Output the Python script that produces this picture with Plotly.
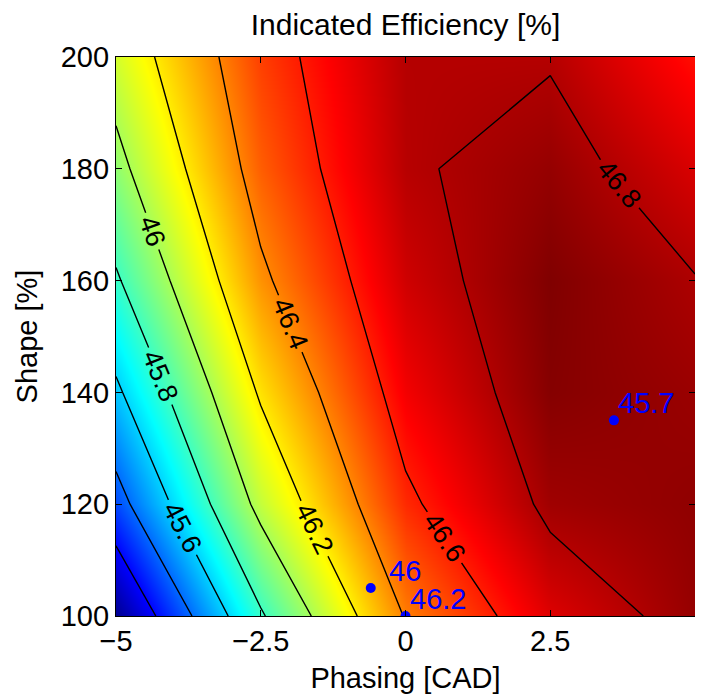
import plotly.graph_objects as go

# ---- data ----
phasing = [-5, -2.5, 0, 2.5, 5]                 # x [CAD]
shape = [100, 120, 140, 160, 180, 200]          # y [%]
efficiency = [                                   # z [%], rows follow `shape`
    [44.98, 45.78, 46.41, 46.71, 46.85],
    [45.33, 46.05, 46.57, 46.83, 46.86],
    [45.57, 46.22, 46.67, 46.88, 46.84],
    [45.78, 46.37, 46.74, 46.89, 46.805],
    [45.95, 46.47, 46.785, 46.85, 46.72],
    [46.08, 46.53, 46.79, 46.79, 46.62],
]
level_start, level_end, level_step = 45.2, 46.8, 0.2

pt_x = [-0.6, 0.0, 3.6]
pt_y = [105, 100, 135]
pt_labels = ["46", "46.2", "45.7"]

x_ticks = [-5, -2.5, 0, 2.5, 5]
x_tick_labels = ["\u22125", "\u22122.5", "0", "2.5", "5"]
y_ticks = [100, 120, 140, 160, 180, 200]
y_tick_labels = ["100", "120", "140", "160", "180", "200"]

# ---- style ----
FONT = "Liberation Sans, Arial, Helvetica, sans-serif"
jet = [
    [0.0, "rgb(0,0,143)"],
    [0.111, "rgb(0,0,255)"],
    [0.365, "rgb(0,255,255)"],
    [0.619, "rgb(255,255,0)"],
    [0.873, "rgb(255,0,0)"],
    [1.0, "rgb(128,0,0)"],
]
zmin = min(min(r) for r in efficiency)
zmax = max(max(r) for r in efficiency)

# page body has an 8px margin, so the figure is 8px smaller than the window
FIG_W, FIG_H = 695, 686

fig = go.Figure()
fig.add_trace(go.Contour(
    x=phasing, y=shape, z=efficiency,
    colorscale=jet, zauto=False, zmin=zmin, zmax=zmax,
    autocontour=False,
    contours=dict(start=level_start, end=level_end, size=level_step,
                  coloring="heatmap", showlabels=True,
                  labelfont=dict(family=FONT, size=27, color="black"),
                  labelformat=".4~g"),
    line=dict(color="black", width=1.4, smoothing=0),
    showscale=False, hoverinfo="skip",
))
fig.add_trace(go.Scatter(
    x=pt_x, y=pt_y, mode="markers",
    marker=dict(color="rgb(0,0,255)", size=10),
    showlegend=False, hoverinfo="skip",
))
xshifts = [16, 2, 2]
for xx, yy, t, xs in zip(pt_x, pt_y, pt_labels, xshifts):
    fig.add_annotation(x=xx, y=yy, text=t, showarrow=False,
                       xanchor="left", yanchor="middle", xshift=xs, yshift=17,
                       font=dict(family=FONT, size=29, color="rgb(0,0,255)"))

axis_common = dict(
    showline=True, linecolor="black", linewidth=1.3, mirror="ticks",
    ticks="inside", ticklen=6, tickcolor="black", tickwidth=1,
    showgrid=True, gridcolor="rgba(160,160,225,0.75)", gridwidth=1,
    griddash="dot", zeroline=False, layer="above traces", automargin=False,
    tickfont=dict(family=FONT, size=29, color="black"),
)
fig.update_xaxes(range=[-5, 5], tickmode="array", tickvals=x_ticks,
                 ticktext=x_tick_labels, ticklabelstandoff=-1,
                 title=dict(text="Phasing [CAD]", standoff=12,
                            font=dict(family=FONT, size=29, color="black")),
                 **axis_common)
fig.update_yaxes(range=[100, 200], tickmode="array", tickvals=y_ticks,
                 ticktext=y_tick_labels,
                 title=dict(text="Shape [%]", standoff=14,
                            font=dict(family=FONT, size=29, color="black")),
                 **axis_common)
fig.update_layout(
    width=FIG_W, height=FIG_H,
    margin=dict(l=108, r=8, t=49, b=78),
    paper_bgcolor="white", plot_bgcolor="white",
    title=dict(text="Indicated Efficiency [%]", x=0.5, xref="paper",
               y=1 - 16 / FIG_H, yref="container", yanchor="middle",
               font=dict(family=FONT, size=30, color="black")),
    showlegend=False,
)
fig.write_html("out.html")
